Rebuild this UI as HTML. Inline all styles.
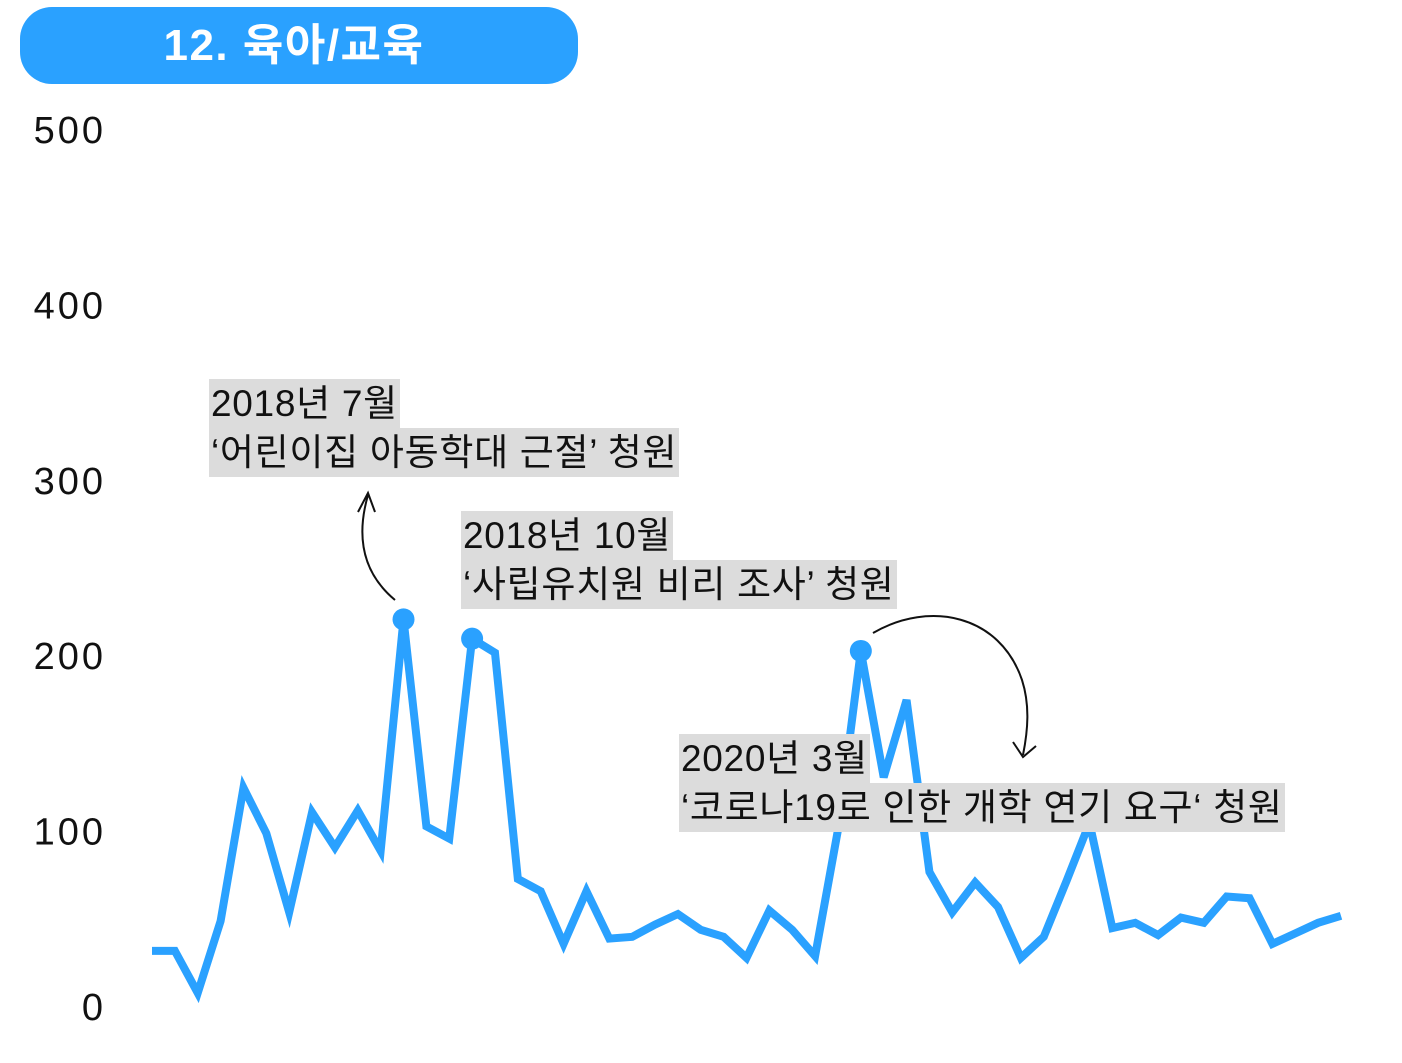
<!DOCTYPE html>
<html><head><meta charset="utf-8"><style>
body{margin:0;background:#fff;width:1402px;height:1063px;overflow:hidden;position:relative;font-family:"Liberation Sans","Noto Sans CJK KR",sans-serif}
.hdr{position:absolute;left:20px;top:7px;width:558px;height:77px;background:#2aa1ff;border-radius:32px;color:#fff;font-weight:bold;font-size:44px;line-height:77px;text-align:center;box-sizing:border-box;padding-right:10px;letter-spacing:1.5px}
.ann{position:absolute;font-size:37px;line-height:49px;color:#111;letter-spacing:0.7px}
.ann span{background:#dcdcdc;display:inline-block;padding:0 2px}
</style></head><body>
<div class="hdr">12. 육아/교육</div>
<svg id="chart" width="1402" height="1063" style="position:absolute;left:0;top:0"></svg>
<div class="ann" style="left:209px;top:379px"><span>2018년 7월</span><br><span>‘어린이집 아동학대 근절’ 청원</span></div>
<div class="ann" style="left:461px;top:511px"><span>2018년 10월</span><br><span>‘사립유치원 비리 조사’ 청원</span></div>
<div class="ann" style="left:679px;top:734px"><span>2020년 3월</span><br><span>‘코로나19로 인한 개학 연기 요구‘ 청원</span></div>
<script>
const values=[32,32,8,49,125,99,54,111,91,112,89,221,103,96,210,202,73,66,36,66,39,40,47,53,44,40,28,55,44,29,101,203,131,175,77,54,71,57,28,40,72,105,45,48,41,51,48,63,62,36,42,48,52];
const yTicks=[0,100,200,300,400,500];
const highlights=[11,14,31];
const NS="http://www.w3.org/2000/svg",svg=document.getElementById('chart');
const x=i=>152+i*(1341-152)/(values.length-1);
const y=v=>1007-v*1.754;
function mk(t,a){const e=document.createElementNS(NS,t);for(const k in a)e.setAttribute(k,a[k]);svg.appendChild(e);return e;}
yTicks.forEach(t=>{const e=mk('text',{x:106,y:y(t)+13,'text-anchor':'end','font-size':38,'letter-spacing':3,fill:'#111','font-family':'Liberation Sans, sans-serif'});e.textContent=t;

});
const p=mk('polyline',{points:values.map((v,i)=>x(i)+','+y(v)).join(' '),fill:'none',stroke:'#2aa1ff','stroke-width':8,'stroke-linejoin':'miter'});


highlights.forEach(i=>{const c=mk('circle',{cx:x(i),cy:y(values[i]),r:11,fill:'#2aa1ff'});

});
const a1=mk('path',{d:'M395 600 C365 575 355 540 368 495 M358 512 L368 493 L375 512',fill:'none',stroke:'#111','stroke-width':2});


const a2=mk('path',{d:'M873 633 C930 600 1000 615 1022 680 C1030 705 1028 730 1023 755 M1013 742 L1023 757 L1036 746',fill:'none',stroke:'#111','stroke-width':2});


</script>
</body></html>
